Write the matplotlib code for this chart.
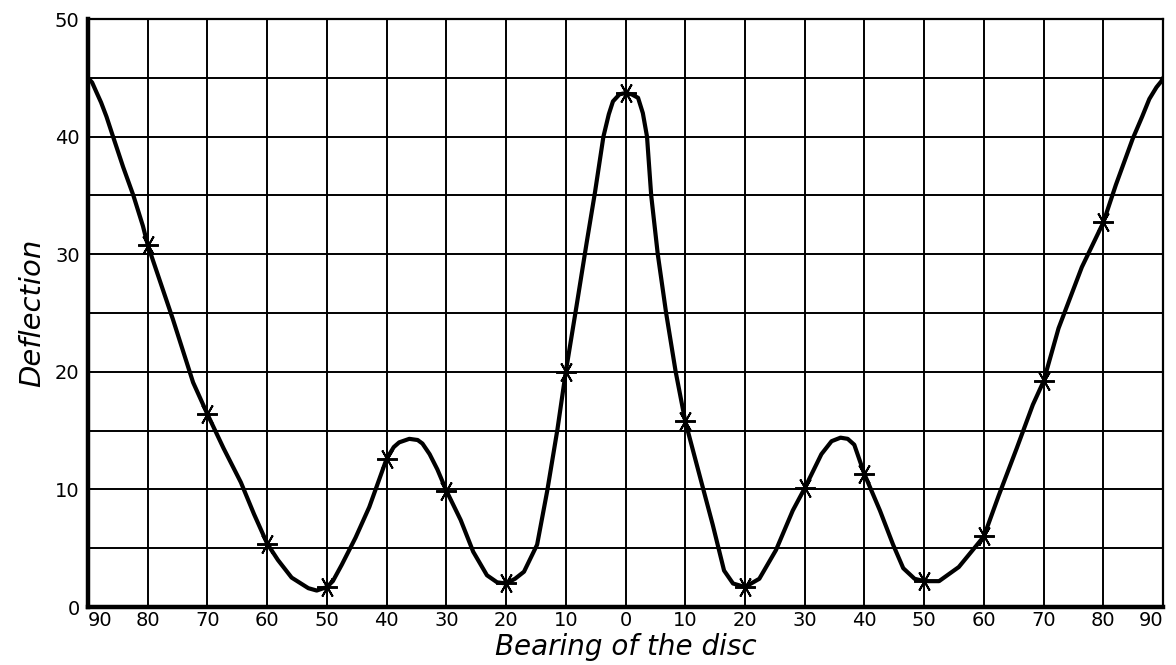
import matplotlib.pyplot as plt

# bearing in degrees (left half negative), deflection
curve_x = [-90, -89.3, -88.6, -87.8, -86.9, -85.8, -84.1, -82.4, -80.8, -80, -77.8, -75.8, -74.1, -72.4,
           -70, -67.3, -64.4, -62.2, -60, -58.2, -55.9, -53.1, -51.7, -50, -49, -47.5,
           -45.2, -42.9, -40, -38.8, -37.9, -36.2, -34.8, -34.0, -32.8, -31.5, -30, -27.6,
           -25.5, -23.2, -21.5, -20, -18.5, -17, -14.8, -13.1, -11.4, -10, -8.2, -6.5,
           -5.1, -3.7, -2.8, -2.1, -1, 0, 1, 2.1, 2.9, 3.6, 4.3, 5.4, 6.8, 8.4, 10, 12.4, 14.6,
           16.5, 18.0, 20, 22.4, 25.2, 28.0, 30, 32.8, 34.5, 36.0, 37.2, 38.3, 40, 42.6,
           44.8, 46.5, 48.4, 50, 52.5, 55.8, 60, 62.5, 65.5, 68.2, 70, 72.5, 76.4, 80,
           82.1, 84.9, 86.5, 87.7, 88.9, 89.7, 90]
curve_y = [45, 44.6, 43.8, 42.9, 41.7, 40.0, 37.4, 35.0, 32.4, 30.8, 27.5, 24.5, 21.8, 19.1,
           16.4, 13.5, 10.6, 7.9, 5.4, 4.0, 2.5, 1.6, 1.4, 1.7, 2.2, 3.6,
           5.9, 8.5, 12.6, 13.6, 14.0, 14.3, 14.2, 13.9, 13.0, 11.7, 9.9, 7.4,
           4.7, 2.7, 2.1, 2.0, 2.4, 3.0, 5.3, 9.9, 15.1, 20.0, 25.6, 31.0,
           35.3, 40.0, 41.9, 43.0, 43.6, 43.7, 43.6, 43.3, 42.0, 40.0, 35.0, 30.0, 25.0, 20.0, 15.8, 11.2, 7.0,
           3.1, 2.0, 1.7, 2.4, 4.85, 8.2, 10.1, 13.0, 14.1, 14.4, 14.3, 13.8, 11.3, 8.2,
           5.3, 3.3, 2.4, 2.2, 2.2, 3.4, 6.0, 9.5, 13.5, 17.2, 19.2, 23.7, 28.9, 32.7,
           35.9, 39.8, 41.7, 43.2, 44.2, 44.7, 45]

# observed points (marked with asterisks)
obs_x = [-80, -70, -60, -50, -40, -30, -20, -10, 0, 10, 20, 30, 40, 50, 60, 70, 80]
obs_y = [30.8, 16.4, 5.4, 1.7, 12.6, 9.9, 2.0, 20.0, 43.7, 15.8, 1.7, 10.1, 11.3, 2.2, 6.0, 19.2, 32.7]

xticks = list(range(-90, 91, 10))
xlabels = [str(abs(t)) for t in xticks]
yticks = [0, 10, 20, 30, 40, 50]

plt.rcParams['font.family'] = ['DejaVu Sans']

fig = plt.figure(figsize=(11.76, 6.65), dpi=100)
ax = fig.add_axes([0.0748, 0.0872, 0.9142, 0.8842])

# squared paper: every 10 degrees across, every 5 units up
for gx in range(-80, 90, 10):
    ax.axvline(gx, color='black', lw=1.4, zorder=1)
for gy in range(5, 50, 5):
    ax.axhline(gy, color='black', lw=1.4, zorder=1)

ax.plot(curve_x, curve_y, color='black', lw=3.0, solid_joinstyle='round',
        solid_capstyle='round', zorder=3)
ax.plot(obs_x, obs_y, linestyle='none', marker=(6, 2, 30), markersize=15,
        markeredgewidth=1.4, color='black', zorder=4)

ax.set_xlim(-90, 90)
ax.set_ylim(0, 50)
ax.set_xticks(xticks)
ax.set_xticklabels(xlabels)
ax.set_yticks(yticks)
ax.tick_params(length=0, labelsize=14)
ax.tick_params(axis='x', pad=3)
ax.tick_params(axis='y', pad=6)

# end labels sit inside the frame, as on the original
tl = ax.get_xticklabels()
tl[0].set_horizontalalignment('left')
tl[-1].set_horizontalalignment('right')

ax.spines['left'].set_linewidth(3.2)
ax.spines['bottom'].set_linewidth(3.2)
ax.spines['top'].set_linewidth(1.6)
ax.spines['right'].set_linewidth(1.6)

ax.set_xlabel("Bearing of the disc", fontsize=20, style='italic', labelpad=2)
ax.set_ylabel("Deflection", fontsize=21, style='italic', labelpad=6)

fig.savefig("out.png", dpi=100)
